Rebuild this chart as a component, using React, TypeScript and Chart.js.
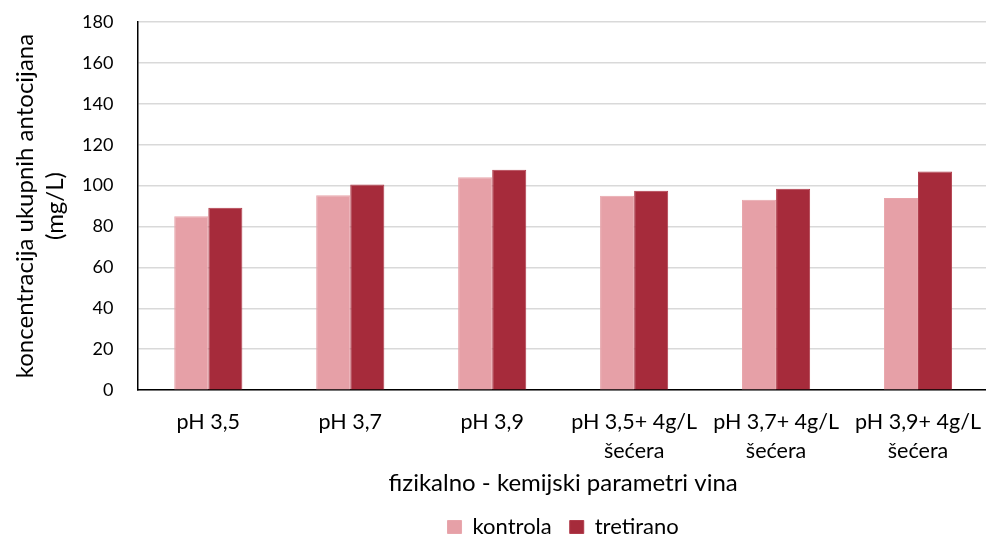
import React, { useEffect, useRef } from "react";
import { Chart, registerables } from "chart.js";

Chart.register(...registerables);

const categories: (string | string[])[] = [
  "pH 3,5",
  "pH 3,7",
  "pH 3,9",
  ["pH 3,5+ 4g/L", "šećera"],
  ["pH 3,7+ 4g/L", "šećera"],
  ["pH 3,9+ 4g/L", "šećera"],
];
const kontrola = [85.0, 95.3, 104.1, 95.1, 93.1, 93.9];
const tretirano = [89.2, 100.6, 107.8, 97.5, 98.5, 106.9];
const seriesNames = ["kontrola", "tretirano"];
const yTitle = ["koncentracija ukupnih antocijana", "(mg/L)"];
const xTitle = "fizikalno - kemijski parametri vina";

const FONT = "Lato, 'Open Sans', sans-serif";

export default function App() {
  const ref = useRef<HTMLCanvasElement | null>(null);
  useEffect(() => {
    document.body.style.margin = "0";
    const ctx = ref.current!.getContext("2d")!;
    const chart = new Chart(ctx, {
      type: "bar",
      data: {
        labels: categories,
        datasets: [
          {
            label: seriesNames[0],
            data: kontrola,
            backgroundColor: "#E6A0A7",
            borderColor: "#E8A6AC",
            borderWidth: 1,
            categoryPercentage: 0.48,
            barPercentage: 1,
          },
          {
            label: seriesNames[1],
            data: tretirano,
            backgroundColor: "#A62B3B",
            borderColor: "#B03C4B",
            borderWidth: 1,
            categoryPercentage: 0.48,
            barPercentage: 1,
          },
        ],
      },
      options: {
        animation: false,
        responsive: false,
        layout: { padding: { top: 22, right: 3, left: 10, bottom: 0 } },
        plugins: {
          tooltip: { enabled: false },
          legend: {
            position: "bottom",
            fullSize: false,
            labels: {
              boxWidth: 14,
              boxHeight: 13,
              padding: 18,
              color: "#000",
              font: { family: FONT, size: 22 },
            },
          },
        },
        scales: {
          x: {
            grid: {
              display: true,
              color: "transparent",
              tickColor: "transparent",
              drawTicks: true,
              tickLength: 16,
            },
            border: { color: "#000", width: 1.5 },
            ticks: {
              color: "#000",
              font: { family: FONT, size: 21.5, lineHeight: 1.35 },
              padding: 1,
              maxRotation: 0,
              autoSkip: false,
            },
            title: {
              display: true,
              text: xTitle,
              color: "#000",
              font: { family: FONT, size: 24 },
              padding: { top: 3, bottom: 0 },
            },
          },
          y: {
            min: 0,
            max: 180,
            ticks: {
              stepSize: 20,
              color: "#000",
              font: { family: FONT, size: 18, lineHeight: 1 },
              padding: 2,
            },
            grid: {
              color: "#D9D9D9",
              lineWidth: 1.5,
              drawTicks: true,
              tickLength: 22,
              tickColor: "transparent",
            },
            border: { color: "#000", width: 1.5 },
            title: {
              display: true,
              text: yTitle,
              color: "#000",
              font: { family: FONT, size: 24, lineHeight: 1.25 },
              padding: { top: 0, bottom: 10 },
            },
          },
        },
      },
    });
    return () => chart.destroy();
  }, []);
  return (
    <div style={{ position: "absolute", left: 0, top: 0, width: 986, height: 535, overflow: "hidden" }}>
      <canvas ref={ref} width={992} height={548} style={{ display: "block" }} />
    </div>
  );
}
